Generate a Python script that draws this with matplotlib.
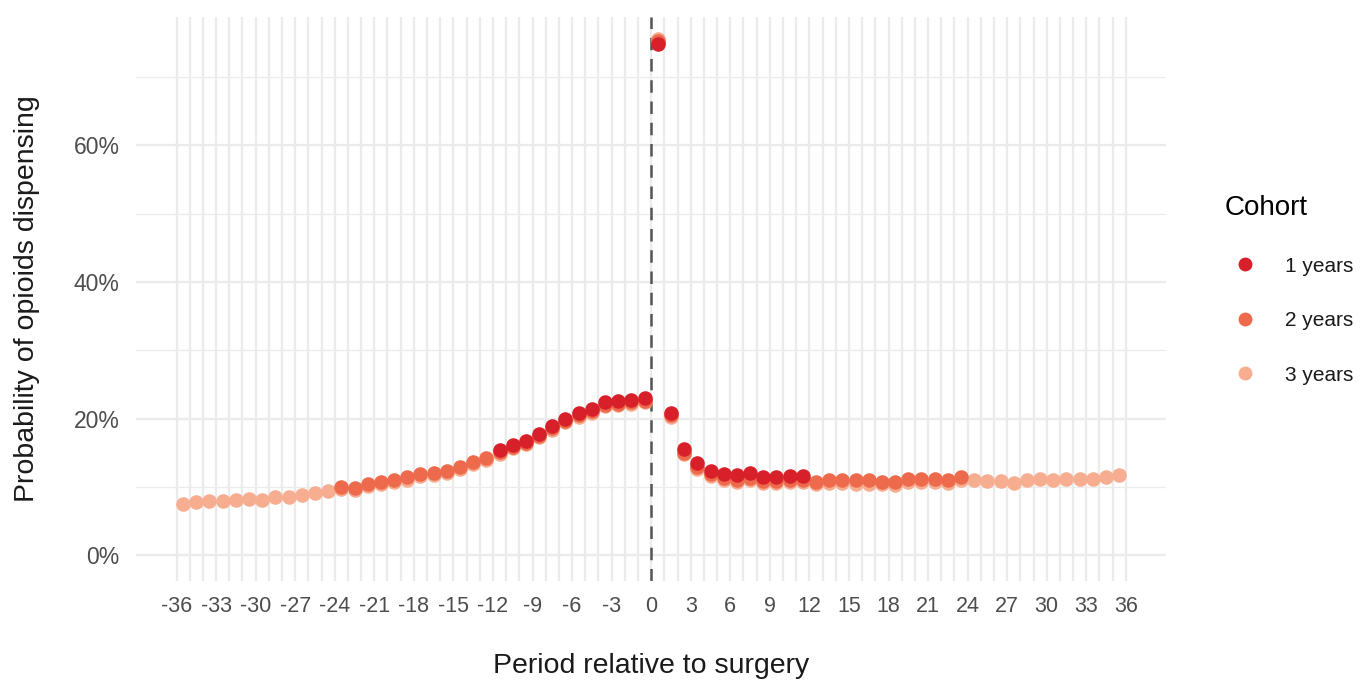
import numpy as np
import matplotlib
matplotlib.use("Agg")
import matplotlib.pyplot as plt
from matplotlib.ticker import FixedLocator, FuncFormatter

plt.rcParams['font.family'] = ['Liberation Sans', 'DejaVu Sans']
plt.rcParams['axes.unicode_minus'] = False

# Probability of opioid dispensing (%) per month relative to surgery
periods_1y = np.arange(-11.5, 12)
periods_2y = np.arange(-23.5, 24)
periods_3y = np.arange(-35.5, 36)

prob_1y = [15.4, 16.2, 16.8, 17.8, 18.9, 20.0, 20.8, 21.4, 22.4, 22.6, 22.8, 23.0,
           74.8, 20.9, 15.5, 13.5, 12.4, 11.9, 11.7, 12.0, 11.4, 11.4, 11.6, 11.6]

prob_2y = [10.0, 9.8, 10.5, 10.7, 11.1, 11.4, 11.9, 12.0, 12.4, 12.9, 13.6, 14.2,
           15.1, 15.9, 16.5, 17.5, 18.6, 19.7, 20.5, 21.1, 22.0, 22.2, 22.4, 22.6,
           75.2, 20.5, 15.0, 12.9, 11.9, 11.3, 11.1, 11.3, 10.9, 10.9, 11.0, 11.0,
           10.8, 11.0, 11.0, 11.1, 11.0, 10.8, 10.7, 11.2, 11.2, 11.2, 11.1, 11.5]

prob_3y = [7.5, 7.8, 7.9, 7.9, 8.1, 8.3, 8.1, 8.6, 8.6, 8.8, 9.1, 9.4,
           9.7, 9.5, 10.2, 10.4, 10.8, 11.0, 11.6, 11.7, 12.1, 12.6, 13.3, 13.9,
           14.9, 15.7, 16.3, 17.3, 18.4, 19.5, 20.3, 20.9, 21.8, 22.0, 22.2, 22.4,
           75.5, 20.3, 14.8, 12.6, 11.6, 11.0, 10.8, 11.0, 10.6, 10.6, 10.7, 10.7,
           10.4, 10.6, 10.6, 10.5, 10.5, 10.5, 10.3, 10.8, 10.8, 10.7, 10.6, 11.0,
           11.0, 10.9, 10.9, 10.6, 11.0, 11.2, 11.0, 11.2, 11.2, 11.2, 11.4, 11.7]

cohorts = ['1 years', '2 years', '3 years']
colors = {'1 years': '#D7202A', '2 years': '#EE6A4C', '3 years': '#F7AD90'}

fig = plt.figure(figsize=(13.63, 6.8), dpi=100)
ax = fig.add_axes([0.1, 0.1455, 0.7555, 0.8295])

# grid: every month vertically, 10% steps horizontally
grid_col = '#EBEBEB'
for xv in range(-36, 37):
    ax.axvline(xv, color=grid_col, lw=1.6, zorder=0)
for yv in [0, 20, 40, 60]:
    ax.axhline(yv, color=grid_col, lw=1.6, zorder=0)
for yv in [10, 30, 50, 70]:
    ax.axhline(yv, color=grid_col, lw=0.9, zorder=0)

ax.axvline(0, color='#555555', lw=1.8, ls=(0, (5, 3.5)), zorder=1)

# longest cohort first so shorter cohorts sit on top
ax.scatter(periods_3y, prob_3y, s=110, color=colors['3 years'], lw=0, zorder=2)
ax.scatter(periods_2y, prob_2y, s=110, color=colors['2 years'], lw=0, zorder=3)
ax.scatter(periods_1y, prob_1y, s=110, color=colors['1 years'], lw=0, zorder=4)

ax.set_xlim(-39.05, 39.05)
ax.set_ylim(-3.75, 78.75)
ax.xaxis.set_major_locator(FixedLocator(range(-36, 37, 3)))
ax.yaxis.set_major_locator(FixedLocator([0, 20, 40, 60]))
ax.yaxis.set_major_formatter(FuncFormatter(lambda v, p: f'{v:.0f}%'))
ax.tick_params(length=0, labelsize=16.5, labelcolor='#4D4D4D', pad=12)
ax.tick_params(axis='x', labelsize=15.5, pad=11)
for s in ax.spines.values():
    s.set_visible(False)

ax.set_xlabel('Period relative to surgery', fontsize=20.5, color='#1A1A1A', labelpad=26)
ax.set_ylabel('Probability of opioids dispensing', fontsize=20.5, color='#1A1A1A', labelpad=24)

handles = [plt.Line2D([], [], ls='', marker='o', ms=10, mew=0, color=colors[c]) for c in cohorts]
leg = fig.legend(handles, cohorts, loc='upper left', bbox_to_anchor=(0.892, 0.725),
                 frameon=False, title='Cohort', fontsize=15, title_fontsize=20,
                 labelspacing=1.7, handletextpad=0.9, borderaxespad=0)
leg._legend_box.align = 'left'
for t in leg.get_texts():
    t.set_color('#1A1A1A')

fig.savefig('out.png', dpi=100)
